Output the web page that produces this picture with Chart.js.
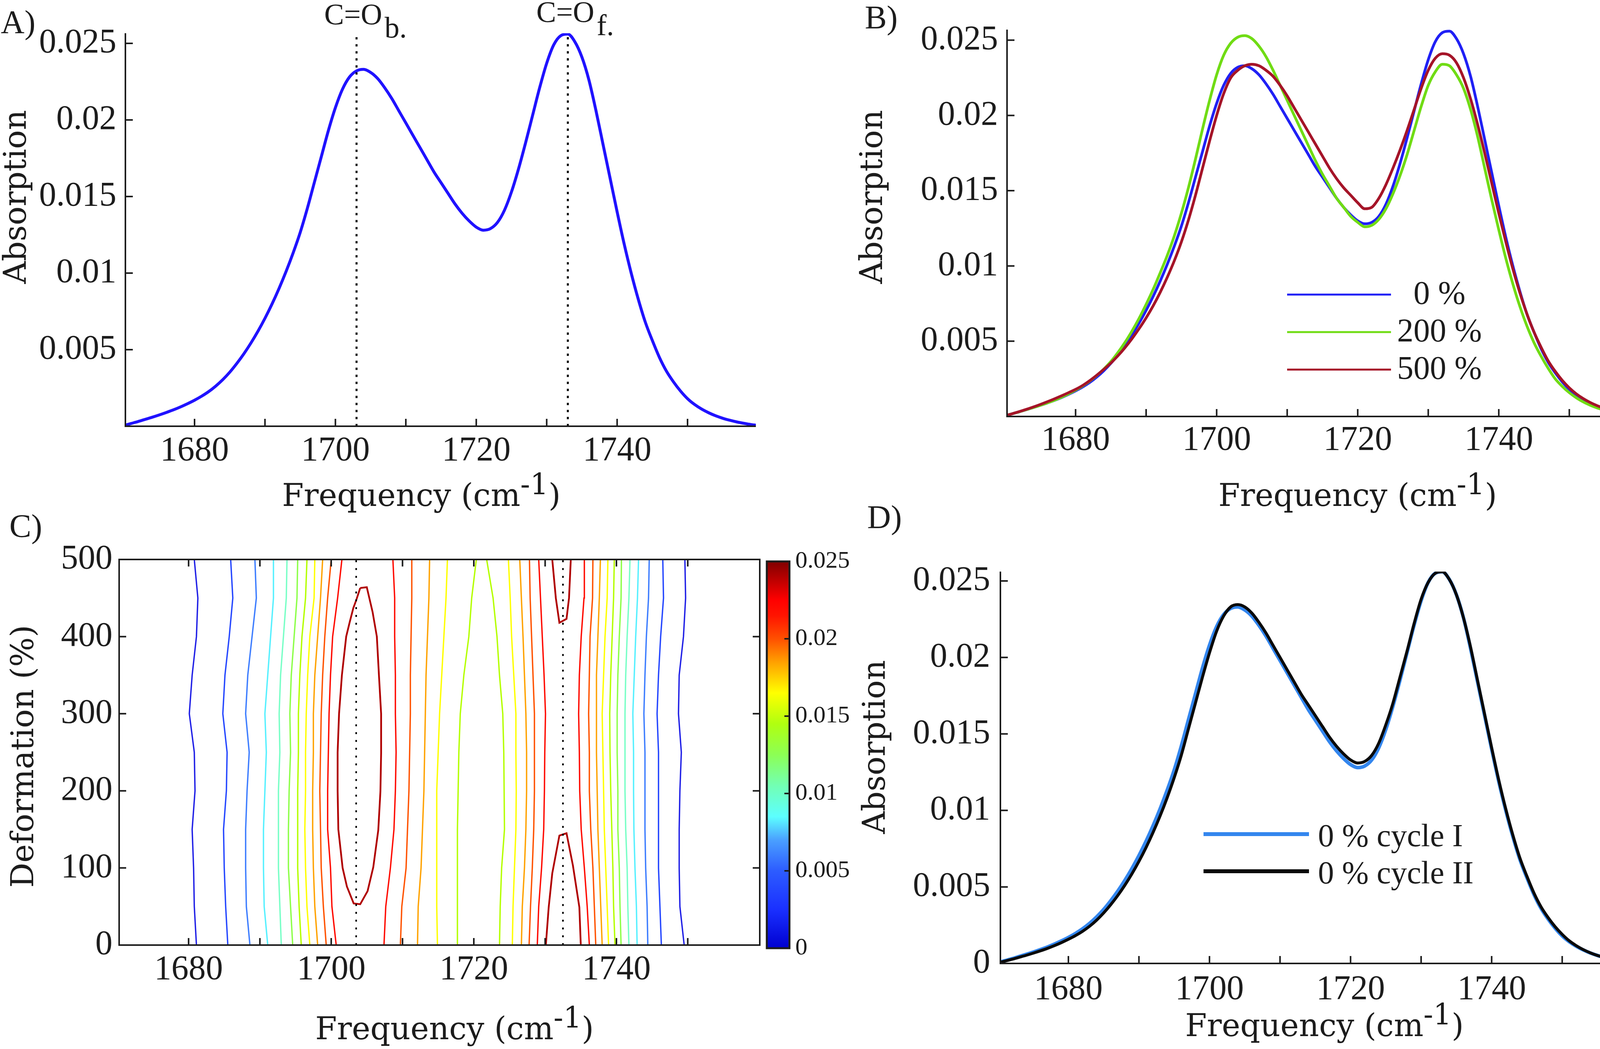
<!DOCTYPE html>
<html lang="en">
<head>
<meta charset="UTF-8" />
<title>Carbonyl band under deformation</title>
<script src="https://cdn.jsdelivr.net/npm/chart.js"></script>
<style>
  body { margin: 0; background: #fff; }
  #page { position: relative; width: 4198px; height: 2685px; overflow: hidden; background: #fff; }
  canvas { position: absolute; }
</style>
</head>
<body>
<div id="page"></div>
<script>
// ---- data ----
const freq = [
  1670, 1671, 1672, 1673, 1674, 1675, 1676, 1677, 1678, 1679,
  1680, 1681, 1682, 1683, 1684, 1685, 1686, 1687, 1688, 1689,
  1690, 1691, 1692, 1693, 1694, 1695, 1696, 1697, 1698, 1699,
  1700, 1701, 1702, 1703, 1704, 1705, 1706, 1707, 1708, 1709,
  1710, 1711, 1712, 1713, 1714, 1715, 1716, 1717, 1718, 1719,
  1720, 1721, 1722, 1723, 1724, 1725, 1726, 1727, 1728, 1729,
  1730, 1731, 1732, 1733, 1734, 1735, 1736, 1737, 1738, 1739,
  1740, 1741, 1742, 1743, 1744, 1745, 1746, 1747, 1748, 1749,
  1750, 1751, 1752, 1753, 1754, 1755, 1756, 1757, 1758, 1759, 1760
];

// 0 % deformation (panel A, B blue, D cycle I)
const spec0 = [
  0.00005, 0.00018, 0.00031, 0.00045, 0.00059, 0.00074, 0.00090, 0.00107, 0.00126, 0.00147,
  0.00170, 0.00196, 0.00226, 0.00262, 0.00304, 0.00353, 0.00410, 0.00473, 0.00543, 0.00620,
  0.00705, 0.00798, 0.00900, 0.01011, 0.01132, 0.01265, 0.0142, 0.0159, 0.0176, 0.0193,
  0.0208, 0.0220, 0.0228, 0.0232, 0.0233, 0.0231, 0.0227, 0.0221, 0.0214, 0.0206,
  0.0198, 0.0190, 0.0182, 0.0174, 0.0166, 0.0159, 0.0152, 0.0145, 0.0139, 0.0134,
  0.0130, 0.0128, 0.0129, 0.0133, 0.0141, 0.0153, 0.0168, 0.0185, 0.0203, 0.0221,
  0.0237, 0.0249, 0.0255, 0.0256, 0.0251, 0.0241, 0.0226, 0.0206, 0.0184, 0.0162,
  0.0140, 0.0119, 0.0100, 0.0083, 0.0068, 0.0056, 0.0045, 0.0036, 0.0029, 0.0023,
  0.0018, 0.00142, 0.00112, 0.00088, 0.00068, 0.00052, 0.00039, 0.00028, 0.00019, 0.00011, 0.00005
];
const spec200 = [
  0.00005, 0.00018, 0.00031, 0.00045, 0.00059, 0.00074, 0.00090, 0.00108, 0.00128, 0.00150,
  0.00175, 0.00203, 0.00235, 0.00272, 0.00315, 0.00365, 0.00425, 0.00492, 0.00568, 0.00652,
  0.00745, 0.00845, 0.00955, 0.0107, 0.0120, 0.0135, 0.0152, 0.0171, 0.0191, 0.0210,
  0.0227, 0.0240, 0.0248, 0.0252, 0.0253, 0.0251, 0.0246, 0.0239, 0.0230, 0.0220,
  0.0210, 0.0200, 0.0190, 0.0180, 0.0170, 0.0161, 0.0153, 0.0145, 0.0139, 0.0133,
  0.0129, 0.0126, 0.0127, 0.0131, 0.0138, 0.0148, 0.0160, 0.0174, 0.0190, 0.0206,
  0.0220, 0.0229, 0.0234, 0.0233, 0.0227, 0.0218, 0.0204, 0.0186, 0.0165, 0.0144,
  0.0124, 0.0105, 0.0088, 0.0073, 0.0060, 0.0049, 0.0040, 0.0032, 0.0025, 0.0020,
  0.00158, 0.00124, 0.00096, 0.00074, 0.00056, 0.00042, 0.00031, 0.00022, 0.00015, 0.00009, 0.00004
];
const spec500 = [
  0.00005, 0.00018, 0.00032, 0.00047, 0.00063, 0.00080, 0.00098, 0.00117, 0.00137, 0.00158,
  0.00180, 0.00206, 0.00238, 0.00274, 0.00313, 0.00355, 0.00403, 0.00457, 0.00517, 0.00583,
  0.00655, 0.00735, 0.00825, 0.00925, 0.01035, 0.01160, 0.01305, 0.01470, 0.01650, 0.01830,
  0.0200, 0.02145, 0.0225, 0.0230, 0.0233, 0.0234, 0.0233, 0.0230, 0.0226, 0.0220,
  0.0213, 0.0205, 0.0197, 0.0189, 0.0181, 0.0173, 0.0165, 0.0158, 0.0152, 0.0147,
  0.0142, 0.0138, 0.0139, 0.0145, 0.0154, 0.0165, 0.0177, 0.0190, 0.0204, 0.0218,
  0.0230, 0.0238, 0.0241, 0.0240, 0.0235, 0.0225, 0.0211, 0.0194, 0.0175, 0.0155,
  0.0135, 0.0116, 0.0098, 0.0082, 0.0068, 0.0056, 0.0046, 0.0037, 0.0030, 0.0024,
  0.0019, 0.00150, 0.00118, 0.00092, 0.00071, 0.00054, 0.00040, 0.00029, 0.00019, 0.00011, 0.00005
];
const specCycle2 = [
  0.00004, 0.00015, 0.00027, 0.00040, 0.00053, 0.00067, 0.00082, 0.00098, 0.00116, 0.00136,
  0.00158, 0.00182, 0.00210, 0.00243, 0.00283, 0.00330, 0.00384, 0.00444, 0.00511, 0.00585,
  0.00667, 0.00757, 0.00856, 0.00964, 0.01083, 0.01214, 0.0136, 0.0153, 0.0170, 0.0187,
  0.0203, 0.0217, 0.0227, 0.0233, 0.02345, 0.0233, 0.0229, 0.0223, 0.0216, 0.0208,
  0.0200, 0.0192, 0.0184, 0.0176, 0.0169, 0.0162, 0.0155, 0.0148, 0.0142, 0.0137,
  0.0133, 0.0131, 0.0132, 0.0136, 0.0144, 0.0156, 0.0170, 0.0187, 0.0204, 0.0222,
  0.0238, 0.0249, 0.0255, 0.0256, 0.0251, 0.0241, 0.0226, 0.0207, 0.0185, 0.0163,
  0.0141, 0.0120, 0.0101, 0.0084, 0.0069, 0.0057, 0.0046, 0.0037, 0.0030, 0.0024,
  0.0019, 0.00148, 0.00116, 0.00090, 0.00069, 0.00052, 0.00039, 0.00028, 0.00019, 0.00011, 0.00005
];

const freqTicks = [1680, 1690, 1700, 1710, 1720, 1730, 1740, 1750];
const absTicks = [0.005, 0.01, 0.015, 0.02, 0.025];
const absTicksZero = [0, 0.005, 0.01, 0.015, 0.02, 0.025];
const deformTicks = [0, 100, 200, 300, 400, 500];
const bandMarksA = [1703, 1733];
const bandMarksC = [1703.5, 1732.5];
const legendB = ['0 %', '200 %', '500 %'];
const legendD = ['0 % cycle I', '0 % cycle II'];

// contour map (panel C): x position of each iso-line at every deformation row
const deformRows = [0, 50, 100, 150, 200, 250, 300, 350, 400, 450, 500];
const contourLevels = [0.002, 0.004, 0.006, 0.008, 0.010, 0.012, 0.014, 0.016, 0.018, 0.020, 0.022, 0.024];
const contourColors = ['#1f1fe6', '#2446ff', '#3d7dff', '#55f0ff', '#78ffc6', '#8cff48', '#b4ff00',
                       '#ffff00', '#ffa200', '#ff5200', '#ff0a00', '#b00000'];
// rising side of the bonded band, levels 0.002 ... 0.022
const riseBonded = [
  [1681.1, 1680.8, 1680.7, 1680.5, 1680.9, 1680.8, 1680.1, 1680.5, 1681.1, 1681.3, 1680.8],
  [1685.5, 1685.2, 1685.0, 1684.9, 1685.3, 1685.4, 1684.8, 1685.1, 1685.7, 1686.2, 1685.9],
  [1688.6, 1688.1, 1688.0, 1688.0, 1688.2, 1688.5, 1688.0, 1688.3, 1688.9, 1689.5, 1689.3],
  [1691.1, 1690.6, 1690.5, 1690.5, 1690.7, 1690.9, 1690.7, 1691.1, 1691.5, 1691.9, 1691.9],
  [1693.0, 1692.8, 1692.6, 1692.6, 1692.6, 1692.8, 1692.7, 1692.9, 1693.3, 1693.7, 1693.8],
  [1694.6, 1694.3, 1694.0, 1694.0, 1694.1, 1694.3, 1694.2, 1694.4, 1694.8, 1695.2, 1695.3],
  [1695.8, 1695.5, 1695.3, 1695.3, 1695.3, 1695.4, 1695.4, 1695.6, 1695.9, 1696.4, 1696.6],
  [1697.0, 1696.6, 1696.4, 1696.3, 1696.4, 1696.4, 1696.5, 1696.7, 1697.0, 1697.6, 1697.7],
  [1698.1, 1697.7, 1697.5, 1697.4, 1697.4, 1697.5, 1697.5, 1697.7, 1698.1, 1698.5, 1698.8],
  [1699.3, 1698.9, 1698.6, 1698.5, 1698.4, 1698.5, 1698.6, 1698.8, 1699.1, 1699.5, 1700.0],
  [1700.7, 1700.1, 1699.9, 1699.5, 1699.5, 1699.6, 1699.7, 1699.9, 1700.2, 1700.9, 1701.5]
];
// falling side of the bonded band, levels 0.014 ... 0.022
const fallBonded = [
  [1717.7, 1717.7, 1717.7, 1717.7, 1717.8, 1717.9, 1718.1, 1718.6, 1719.3, 1719.7, 1720.35],
  [1714.9, 1714.8, 1714.8, 1714.8, 1714.8, 1715.0, 1715.2, 1715.5, 1715.8, 1716.1, 1716.3],
  [1712.1, 1712.2, 1712.6, 1712.8, 1713.0, 1713.1, 1713.2, 1713.3, 1713.5, 1713.7, 1713.8],
  [1709.7, 1709.9, 1710.5, 1710.7, 1710.9, 1711.0, 1711.1, 1711.1, 1711.2, 1711.3, 1711.3],
  [1707.4, 1707.65, 1708.3, 1708.8, 1709.0, 1709.1, 1709.0, 1709.0, 1708.9, 1708.9, 1708.65]
];
// rising side of the free band, levels 0.014 ... 0.022
const riseFree = [
  [1723.6, 1723.7, 1723.9, 1724.3, 1724.25, 1724.2, 1724.06, 1723.6, 1723.25, 1722.7, 1721.8],
  [1725.4, 1725.5, 1725.7, 1725.9, 1725.95, 1725.9, 1725.9, 1725.6, 1725.3, 1725.1, 1724.85],
  [1726.67, 1726.8, 1727.1, 1727.3, 1727.4, 1727.4, 1727.3, 1727.1, 1726.9, 1726.67, 1726.44],
  [1727.75, 1727.95, 1728.2, 1728.4, 1728.5, 1728.5, 1728.5, 1728.3, 1728.1, 1727.9, 1727.8],
  [1728.9, 1729.1, 1729.5, 1729.8, 1729.9, 1729.95, 1730.05, 1729.85, 1729.6, 1729.35, 1729.1]
];
// falling side of the free band, levels 0.002 ... 0.022
const fallFree = [
  [1749.5, 1748.9, 1748.8, 1748.8, 1748.9, 1749.1, 1748.7, 1748.8, 1749.4, 1749.7, 1749.6],
  [1746.3, 1746.1, 1745.9, 1745.9, 1745.9, 1745.9, 1745.7, 1745.9, 1746.2, 1746.6, 1746.5],
  [1744.4, 1744.3, 1744.1, 1744.0, 1744.0, 1744.0, 1743.85, 1744.0, 1744.2, 1744.5, 1744.6],
  [1742.9, 1742.8, 1742.6, 1742.45, 1742.4, 1742.4, 1742.3, 1742.5, 1742.7, 1742.95, 1743.1],
  [1741.75, 1741.6, 1741.5, 1741.3, 1741.2, 1741.2, 1741.2, 1741.3, 1741.5, 1741.75, 1741.9],
  [1740.65, 1740.5, 1740.4, 1740.2, 1740.2, 1740.1, 1740.1, 1740.2, 1740.4, 1740.65, 1740.7],
  [1739.8, 1739.6, 1739.5, 1739.35, 1739.2, 1739.1, 1739.06, 1739.2, 1739.4, 1739.6, 1739.7],
  [1738.9, 1738.7, 1738.5, 1738.3, 1738.2, 1738.1, 1738.0, 1738.2, 1738.4, 1738.7, 1738.8],
  [1738.0, 1737.8, 1737.6, 1737.4, 1737.3, 1737.2, 1737.2, 1737.2, 1737.4, 1737.6, 1737.75],
  [1737.1, 1736.9, 1736.7, 1736.4, 1736.2, 1736.2, 1736.1, 1736.2, 1736.3, 1736.65, 1736.7],
  [1736.2, 1735.9, 1735.5, 1735.06, 1734.85, 1734.8, 1734.7, 1734.8, 1735.06, 1735.45, 1735.5]
];
// 0.024 islands
const islandBondedX = [1704.07, 1704.99, 1705.8, 1706.4, 1706.7, 1707.0, 1707.0, 1706.9, 1706.6, 1705.9, 1705.1,
                       1704.07, 1703.15, 1702.2, 1701.6, 1701.0, 1700.9, 1700.9, 1701.1, 1701.5, 1702.1,
                       1702.6, 1703.1, 1703.5, 1704.07];
const islandBondedY = [463, 464, 432, 400, 349, 300, 249, 199, 149, 101, 70,
                       53, 54, 76, 100, 150, 200, 250, 300, 350, 400,
                       419, 437, 447, 463];
const islandFreeTopX = [1731.0, 1731.5, 1732.0, 1733.0, 1733.35, 1733.6];
const islandFreeTopY = [500, 450, 418, 423, 450, 500];
const islandFreeBotX = [1730.1, 1730.5, 1731.0, 1732.0, 1733.0, 1733.9, 1734.8, 1735.0];
const islandFreeBotY = [0, 49, 93, 142, 145, 103, 49, 0];

// colour bar stops (fraction of 0 ... 0.025)
const cbarPos = [0, 0.1, 0.2, 0.28, 0.34, 0.42, 0.5, 0.58, 0.66, 0.74, 0.8, 0.86, 0.9, 1];
const cbarColors = ['#0000d0', '#1a30ff', '#2d5cff', '#4aa0ff', '#5cffff', '#72ffb4', '#8cff55',
                    '#b0ff10', '#ffff00', '#ffa000', '#ff5000', '#ff1400', '#ff0000', '#800000'];

// ---- drawing helpers ----
const INK = '#1c1c1c';
const SERIF_NUM = '"Liberation Serif", "DejaVu Serif", serif';
const SERIF_TITLE = '"DejaVu Serif", "Liberation Serif", serif';
const TICK_FONT = { family: SERIF_NUM, size: 88 };
const PANEL_FONT = '84px ' + SERIF_NUM;
const TITLE_FONT = '80px ' + SERIF_TITLE;
const UP = -Math.PI / 2;

function pts(xs, ys) { return xs.map((x, i) => ({ x: x, y: ys[i] })); }

function makeCanvas(r) {
  const c = document.createElement('canvas');
  c.width = r.w; c.height = r.h;
  c.style.left = r.left + 'px'; c.style.top = r.top + 'px';
  document.getElementById('page').appendChild(c);
  return c;
}

// rect = canvas in page px, area = plot box in page px
function layoutFor(rect, area) {
  return {
    padding: { left: 0, top: area.top - rect.top, right: rect.left + rect.w - area.right, bottom: 0 },
    yWidth: area.left - rect.left, xHeight: rect.top + rect.h - area.bottom
  };
}

function absLabel(v) { return String(+v.toFixed(3)); }

function axisOptions(o) {
  return {
    responsive: false, animation: false, devicePixelRatio: 1,
    layout: { padding: o.layout.padding },
    plugins: { legend: { display: false }, tooltip: { enabled: false } },
    elements: { point: { radius: 0 } },
    scales: {
      x: {
        type: 'linear', min: o.xMin, max: o.xMax,
        afterBuildTicks: s => { s.ticks = freqTicks.map(v => ({ value: v })); },
        afterFit: s => { s.height = o.layout.xHeight; },
        ticks: { autoSkip: false, maxRotation: 0, padding: o.xPad, color: INK, font: TICK_FONT,
                 callback: v => (v % 20 === 0 ? String(v) : '') },
        grid: { display: false, drawTicks: false }, border: { display: false }
      },
      y: {
        type: 'linear', min: o.yMin, max: o.yMax,
        afterBuildTicks: s => { s.ticks = o.yTicks.map(v => ({ value: v })); },
        afterFit: s => { s.width = o.layout.yWidth; },
        ticks: { padding: o.yPad, color: INK, font: TICK_FONT, callback: o.yFormat },
        grid: { display: false, drawTicks: false }, border: { display: false }
      }
    }
  };
}

function spectrumSet(label, ys, color, width, order) {
  return { label: label, data: pts(freq, ys), borderColor: color, borderWidth: width, order: order,
           pointRadius: 0, fill: false, cubicInterpolationMode: 'monotone' };
}
function markSet(x, y0, y1, width, dash) {
  return { data: [{ x: x, y: y0 }, { x: x, y: y1 }], borderColor: '#000', borderWidth: width,
           borderDash: dash, pointRadius: 0, fill: false, order: 0 };
}

// inward ticks and axis lines, MATLAB style
function framePlugin(cfg) {
  return {
    id: 'frame',
    afterDatasetsDraw(chart) {
      const { ctx, chartArea: a, scales } = chart;
      const len = cfg.len;
      ctx.save();
      ctx.strokeStyle = INK;
      ctx.lineWidth = cfg.tickWidth;
      ctx.beginPath();
      (cfg.xTicks || []).forEach(v => {
        const px = scales.x.getPixelForValue(v);
        ctx.moveTo(px, a.bottom); ctx.lineTo(px, a.bottom - len);
        if (cfg.box) { ctx.moveTo(px, a.top); ctx.lineTo(px, a.top + len); }
      });
      (cfg.yTicks || []).forEach(v => {
        const py = scales.y.getPixelForValue(v);
        ctx.moveTo(a.left, py); ctx.lineTo(a.left + len, py);
        if (cfg.box) { ctx.moveTo(a.right, py); ctx.lineTo(a.right - len, py); }
      });
      ctx.stroke();
      ctx.lineWidth = cfg.axisWidth;
      if (cfg.box) {
        ctx.strokeRect(a.left, a.top, a.right - a.left, a.bottom - a.top);
      } else {
        ctx.beginPath();
        ctx.moveTo(a.left, a.top); ctx.lineTo(a.left, a.bottom); ctx.lineTo(a.right, a.bottom);
        ctx.stroke();
      }
      ctx.restore();
    }
  };
}

function drawText(ctx, t, x, y, font, align, rot) {
  ctx.save();
  ctx.font = font; ctx.fillStyle = INK;
  ctx.textAlign = align || 'left'; ctx.textBaseline = 'alphabetic';
  ctx.translate(x, y);
  if (rot) ctx.rotate(rot);
  ctx.fillText(t, 0, 0);
  ctx.restore();
}
function drawFreqTitle(ctx, x, y) {
  const main = TITLE_FONT, sup = '74px ' + SERIF_TITLE;
  ctx.save();
  ctx.fillStyle = INK; ctx.textAlign = 'left'; ctx.textBaseline = 'alphabetic';
  ctx.font = main; ctx.fillText('Frequency (cm', x, y);
  let cx = x + ctx.measureText('Frequency (cm').width;
  ctx.font = sup; ctx.fillText('-1', cx, y - 30);
  cx += ctx.measureText('-1').width;
  ctx.font = main; ctx.fillText(')', cx, y);
  ctx.restore();
}
function drawSub(ctx, main, sub, x, y, dy) {
  const f = '76px ' + SERIF_NUM;
  ctx.save();
  ctx.font = f;
  const w = ctx.measureText(main).width;
  ctx.restore();
  drawText(ctx, main, x, y, f);
  drawText(ctx, sub, x + w + 6, y + dy, f);
}

// text placed in page coordinates
function labelsPlugin(rect, draw) {
  return { id: 'labels', afterDraw(chart) {
    const ctx = chart.ctx;
    ctx.save(); ctx.translate(-rect.left, -rect.top); draw(ctx); ctx.restore();
  } };
}

function legendPlugin(rect, cfg) {
  return {
    id: 'legendBox',
    afterDraw(chart) {
      const ctx = chart.ctx;
      ctx.save();
      ctx.translate(-rect.left, -rect.top);
      cfg.names.forEach((name, i) => {
        const ds = chart.data.datasets[i];
        const y = cfg.y0 + i * cfg.step;
        ctx.strokeStyle = ds.borderColor; ctx.lineWidth = cfg.lineWidth;
        ctx.beginPath(); ctx.moveTo(cfg.x1, y); ctx.lineTo(cfg.x2, y); ctx.stroke();
        ctx.fillStyle = INK; ctx.font = cfg.font; ctx.textAlign = cfg.align;
        ctx.textBaseline = 'alphabetic';
        ctx.fillText(name, cfg.textX, y + cfg.dy);
      });
      ctx.restore();
    }
  };
}

// ---- panel A ----
const rectA = { left: 0, top: 0, w: 2100, h: 1400 };
const lyA = layoutFor(rectA, { left: 321, top: 85, right: 1935, bottom: 1091 });
const yTopA = 0.02566;
new Chart(makeCanvas(rectA), {
  type: 'line',
  data: { datasets: [
    spectrumSet('0 %', spec0, '#2012ff', 7.5, 1),
    markSet(bandMarksA[0], 0, yTopA, 5, [6, 12]),
    markSet(bandMarksA[1], 0, yTopA, 5, [6, 12])
  ] },
  options: axisOptions({ layout: lyA, xMin: 1670.18, xMax: 1759.7, yMin: 0, yMax: yTopA,
                         yTicks: absTicks, yFormat: absLabel, xPad: 11, yPad: 23 }),
  plugins: [
    framePlugin({ xTicks: freqTicks, yTicks: absTicks, len: 19, tickWidth: 4, axisWidth: 4 }),
    labelsPlugin(rectA, ctx => {
      drawText(ctx, 'A)', 2, 85, PANEL_FONT);
      drawSub(ctx, 'C=O', 'b.', 830, 62, 34);
      drawSub(ctx, 'C=O', 'f.', 1373, 56, 34);
      drawText(ctx, 'Absorption', 66, 504, TITLE_FONT, 'center', UP);
      drawFreqTitle(ctx, 722, 1295);
    })
  ]
});

// ---- panel B ----
const rectB = { left: 2100, top: 0, w: 2098, h: 1400 };
const lyB = layoutFor(rectB, { left: 2578, top: 58, right: 4198, bottom: 1066 });
new Chart(makeCanvas(rectB), {
  type: 'line',
  data: { datasets: [
    spectrumSet(legendB[0], spec0, '#2020f5', 7, 3),
    spectrumSet(legendB[1], spec200, '#70dc14', 7, 2),
    spectrumSet(legendB[2], spec500, '#a51428', 7, 1)
  ] },
  options: axisOptions({ layout: lyB, xMin: 1670.28, xMax: 1760.0, yMin: 0, yMax: 0.0257,
                         yTicks: absTicks, yFormat: absLabel, xPad: 9, yPad: 23 }),
  plugins: [
    framePlugin({ xTicks: freqTicks, yTicks: absTicks, len: 19, tickWidth: 4, axisWidth: 4 }),
    legendPlugin(rectB, { names: legendB, x1: 3295, x2: 3561, y0: 754, step: 96, lineWidth: 5,
                          textX: 3685, align: 'center', dy: 24, font: '84px ' + SERIF_NUM }),
    labelsPlugin(rectB, ctx => {
      drawText(ctx, 'B)', 2214, 73, PANEL_FONT);
      drawText(ctx, 'Absorption', 2258, 504, TITLE_FONT, 'center', UP);
      drawFreqTitle(ctx, 3119, 1295);
    })
  ]
});

// ---- panel C (iso-absorption map) ----
function contourSet(xs, ys, levelIdx, width) {
  return { data: pts(xs, ys), borderColor: contourColors[levelIdx], borderWidth: width,
           pointRadius: 0, fill: false, tension: 0, order: 1 };
}
const cSets = [];
riseBonded.forEach((xs, i) => cSets.push(contourSet(xs, deformRows, i, 3.5)));
fallBonded.forEach((xs, i) => cSets.push(contourSet(xs, deformRows, 6 + i, 3.5)));
riseFree.forEach((xs, i) => cSets.push(contourSet(xs, deformRows, 6 + i, 3.5)));
fallFree.forEach((xs, i) => cSets.push(contourSet(xs, deformRows, i, 3.5)));
cSets.push(contourSet(islandBondedX, islandBondedY, 11, 4.5));
cSets.push(contourSet(islandFreeTopX, islandFreeTopY, 11, 4.5));
cSets.push(contourSet(islandFreeBotX, islandFreeBotY, 11, 4.5));
bandMarksC.forEach(x => cSets.push(markSet(x, 0, 500, 4, [5, 15])));

const rectC = { left: 0, top: 1240, w: 1950, h: 1445 };
const lyC = layoutFor(rectC, { left: 305, top: 1432, right: 1945, bottom: 2419 });
new Chart(makeCanvas(rectC), {
  type: 'line',
  data: { datasets: cSets },
  options: axisOptions({ layout: lyC, xMin: 1670.26, xMax: 1760.1, yMin: 0, yMax: 500,
                         yTicks: deformTicks, yFormat: v => String(v), xPad: 11, yPad: 17 }),
  plugins: [
    framePlugin({ xTicks: freqTicks, yTicks: deformTicks, len: 18, tickWidth: 4, axisWidth: 4, box: true }),
    labelsPlugin(rectC, ctx => {
      drawText(ctx, 'C)', 24, 1375, PANEL_FONT);
      drawText(ctx, 'Deformation (%)', 85, 1936, TITLE_FONT, 'center', UP);
      drawFreqTitle(ctx, 807, 2660);
    })
  ]
});

// colour bar
const rectCb = { left: 1940, top: 1240, w: 258, h: 1445 };
new Chart(makeCanvas(rectCb), {
  type: 'bar',
  data: { labels: [''], datasets: [{
    data: [[0, 0.025]], borderWidth: 0, barPercentage: 1, categoryPercentage: 1,
    backgroundColor: c => {
      const { chart } = c;
      if (!chart.chartArea) return cbarColors[0];
      const y = chart.scales.y;
      const g = chart.ctx.createLinearGradient(0, y.getPixelForValue(0), 0, y.getPixelForValue(0.025));
      cbarPos.forEach((p, i) => g.addColorStop(p, cbarColors[i]));
      return g;
    }
  }] },
  options: {
    responsive: false, animation: false, devicePixelRatio: 1,
    layout: { padding: { left: 1963 - 1940, top: 1437 - 1240, right: 0, bottom: 1240 + 1445 - 2427 } },
    plugins: { legend: { display: false }, tooltip: { enabled: false } },
    scales: {
      x: { display: false },
      y: {
        position: 'right', min: 0, max: 0.025,
        afterBuildTicks: s => { s.ticks = absTicksZero.map(v => ({ value: v })); },
        afterFit: s => { s.width = 1940 + 258 - 2021; },
        ticks: { padding: 15, color: INK, font: { family: SERIF_NUM, size: 62 }, callback: absLabel },
        grid: { display: false, drawTicks: false }, border: { display: false }
      }
    }
  },
  plugins: [{
    id: 'cbFrame',
    afterDraw(chart) {
      const { ctx, chartArea: a, scales } = chart;
      ctx.save();
      ctx.strokeStyle = INK; ctx.lineWidth = 4;
      ctx.beginPath();
      absTicks.forEach(v => {
        const py = scales.y.getPixelForValue(v);
        ctx.moveTo(a.right, py); ctx.lineTo(a.right - 13, py);
      });
      ctx.stroke();
      ctx.lineWidth = 5;
      ctx.strokeRect(a.left, a.top, a.right - a.left, a.bottom - a.top);
      ctx.restore();
    }
  }]
});

// ---- panel D ----
const rectD = { left: 2100, top: 1240, w: 2098, h: 1445 };
const lyD = layoutFor(rectD, { left: 2561, top: 1463, right: 4178, bottom: 2466 });
new Chart(makeCanvas(rectD), {
  type: 'line',
  data: { datasets: [
    spectrumSet(legendD[0], spec0, '#3386ee', 9, 2),
    spectrumSet(legendD[1], specCycle2, '#0a0a0a', 7.5, 1)
  ] },
  options: axisOptions({ layout: lyD, xMin: 1670.36, xMax: 1759.9, yMin: 0, yMax: 0.02561,
                         yTicks: absTicksZero, yFormat: absLabel, xPad: 15, yPad: 26 }),
  plugins: [
    framePlugin({ xTicks: freqTicks, yTicks: absTicksZero, len: 19, tickWidth: 4, axisWidth: 4 }),
    legendPlugin(rectD, { names: legendD, x1: 3081, x2: 3351, y0: 2135, step: 95, lineWidth: 10,
                          textX: 3374, align: 'left', dy: 31, font: '82px ' + SERIF_NUM }),
    labelsPlugin(rectD, ctx => {
      drawText(ctx, 'D)', 2220, 1352, PANEL_FONT);
      drawText(ctx, 'Absorption', 2265, 1912, TITLE_FONT, 'center', UP);
      drawFreqTitle(ctx, 3034, 2652);
    })
  ]
});
</script>
</body>
</html>
